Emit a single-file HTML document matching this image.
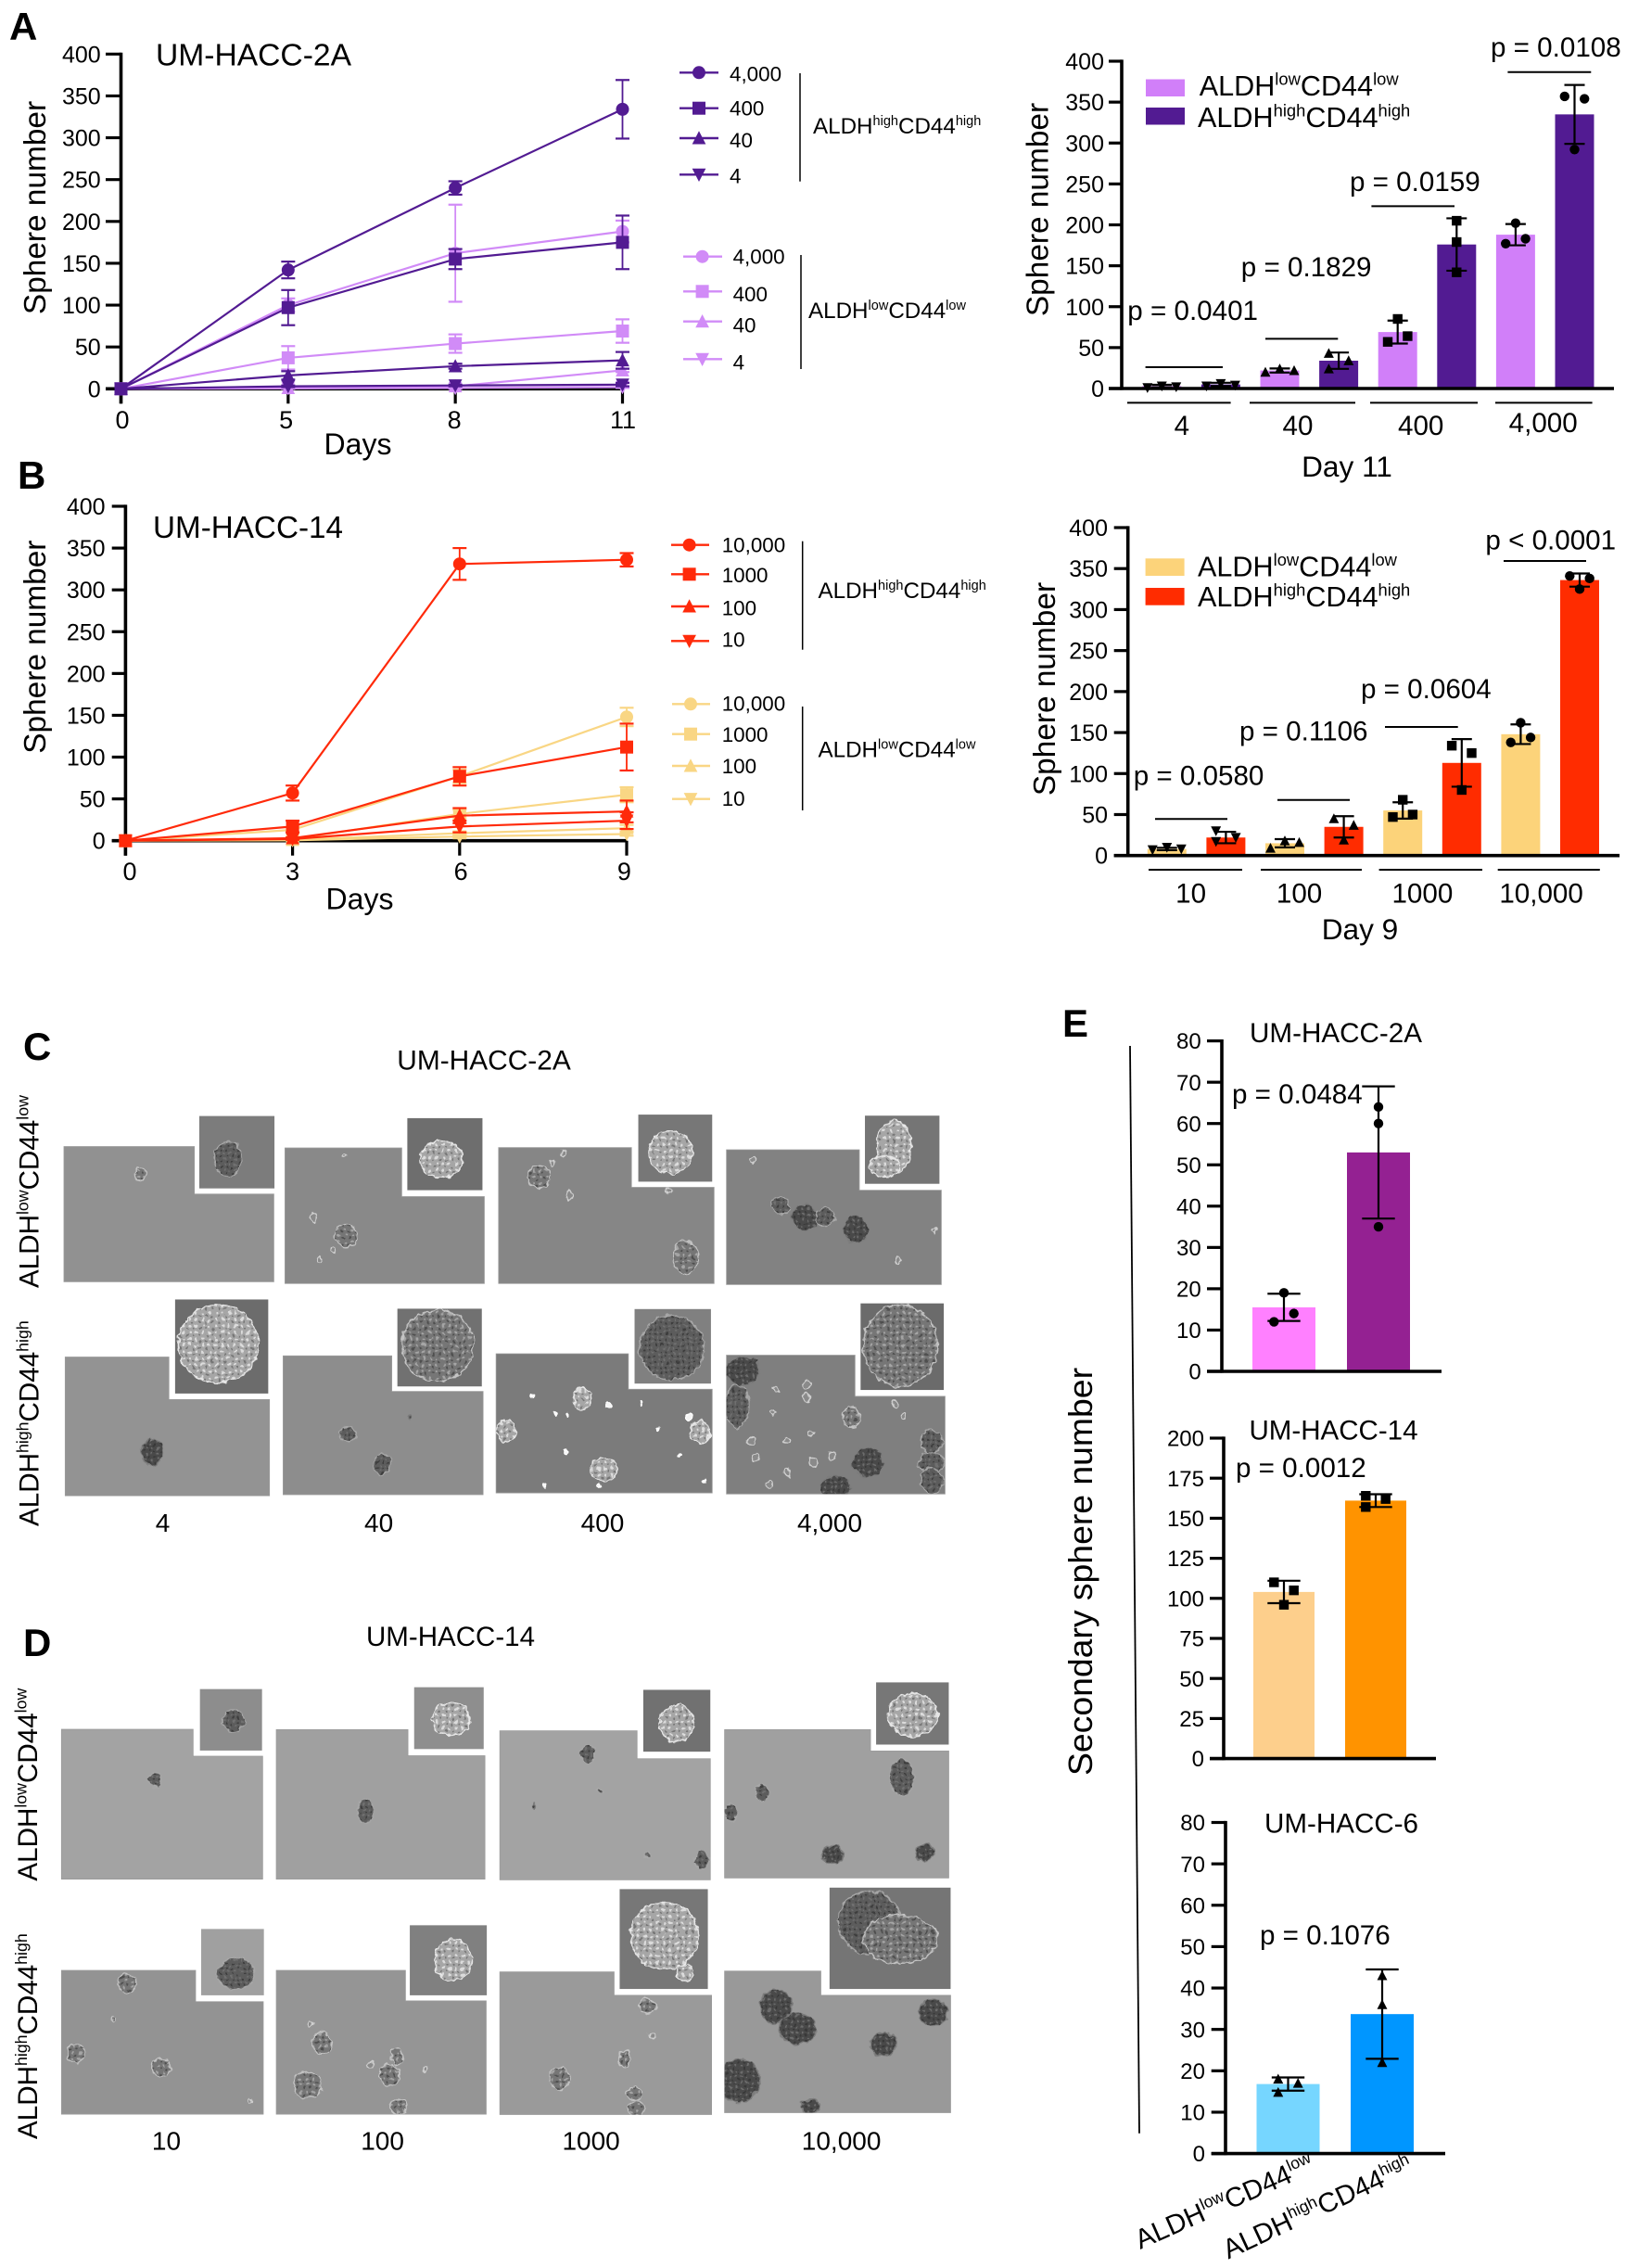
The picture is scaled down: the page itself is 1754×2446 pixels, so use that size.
<!DOCTYPE html>
<html lang="en">
<head>
<meta charset="utf-8">
<title>Sphere formation figure</title>
<style>
html,body{margin:0;padding:0;background:#fff;}
svg{display:block;font-family:"Liberation Sans",Arial,sans-serif;}
</style>
</head>
<body>
<svg id="fig" xmlns="http://www.w3.org/2000/svg" width="1754" height="2446" viewBox="0 0 1754 2446">
<rect width="1754" height="2446" fill="#fff"/>
<defs>
<pattern id="cellsL" width="7" height="7" patternUnits="userSpaceOnUse"><circle cx="2" cy="2" r="1.5" fill="#eee"/><circle cx="5.5" cy="5" r="1.2" fill="#666"/></pattern>
<pattern id="cellsM" width="7" height="7" patternUnits="userSpaceOnUse"><circle cx="2" cy="2" r="1.4" fill="#b5b5b5"/><circle cx="5.5" cy="5" r="1.3" fill="#444"/></pattern>
<pattern id="cellsD" width="6" height="6" patternUnits="userSpaceOnUse"><circle cx="2" cy="2" r="1.2" fill="#777"/><circle cx="5" cy="5" r="1.1" fill="#333"/></pattern>
<filter id="rough" x="-30%" y="-30%" width="160%" height="160%"><feTurbulence type="fractalNoise" baseFrequency="0.13" numOctaves="2" seed="3" result="n"/><feDisplacementMap in="SourceGraphic" in2="n" scale="7" xChannelSelector="R" yChannelSelector="G"/></filter>
</defs>
</svg>
<script>
/* ---------- chart data: panel A line chart ---------- */
const aDays = [0, 5, 8, 11];
const sphereTicks = [0, 50, 100, 150, 200, 250, 300, 350, 400];
const aHigh4000 = [0, 142, 240, 334];
const aHigh4000Err = [0, 10, 8, 35];
const aHigh400 = [0, 97, 155, 175];
const aHigh400Err = [0, 21, 12, 32];
const aHigh40 = [0, 16, 27, 34];
const aHigh40Err = [0, 5, 3, 10];
const aHigh4 = [0, 3, 4, 5];
const aHigh4Err = [0, 1, 1, 2];
const aLow4000 = [0, 100, 162, 188];
const aLow4000Err = [0, 8, 58, 13];
const aLow400 = [0, 37, 54, 69];
const aLow400Err = [0, 14, 11, 14];
const aLow40 = [0, 1, 3, 22];
const aLow40Err = [0, 1, 1, 2];
const aLow4 = [0, 0.5, 1, 2];
const aLow4Err = [0, 0.5, 1, 1];
/* ---------- panel B line chart ---------- */
const bDays = [0, 3, 6, 9];
const bHigh10000 = [0, 57, 331, 336];
const bHigh10000Err = [0, 9, 19, 8];
const bHigh1000 = [0, 17, 77, 112];
const bHigh1000Err = [0, 7, 11, 28];
const bHigh100 = [0, 3, 30, 35];
const bHigh100Err = [0, 1, 9, 13];
const bHigh10 = [0, 2, 17, 24];
const bHigh10Err = [0, 1, 7, 10];
const bLow10000 = [0, 13, 77, 148];
const bLow10000Err = [0, 3, 8, 11];
const bLow1000 = [0, 2, 32, 55];
const bLow1000Err = [0, 1, 5, 9];
const bLow100 = [0, 1, 9, 15];
const bLow100Err = [0, 0.5, 2, 4];
const bLow10 = [0, 0.5, 5, 8];
const bLow10Err = [0, 0.3, 2, 2];
/* ---------- panel A bars (day 11) ---------- */
const a2Cats = ['4', '40', '400', '4,000'];
const a2Low = [3, 22, 69, 188];
const a2High = [5, 34, 176, 335];
const a2LowErr = [1.5, 2.5, 14, 13];
const a2HighErr = [2, 10, 32, 36];
const a2LowPts = [[1, 3, 2], [20, 24, 22], [57, 85, 64], [177, 202, 183]];
const a2HighPts = [[3, 6, 4], [43, 34, 24], [205, 179, 142], [357, 292, 354]];
/* ---------- panel B bars (day 9) ---------- */
const b2Cats = ['10', '100', '1000', '10,000'];
const b2Low = [8, 15, 55, 148];
const b2High = [22, 35, 113, 336];
const b2LowErr = [1.5, 5, 10, 12];
const b2HighErr = [7, 13, 29, 8];
const b2LowPts = [[7, 10, 8], [9, 18, 16], [47, 68, 50], [138, 162, 144]];
const b2HighPts = [[30, 22, 17], [45, 19, 37], [134, 80, 125], [341, 325, 338]];
/* ---------- panel E bars ---------- */
const e1Ticks = [0, 10, 20, 30, 40, 50, 60, 70, 80];
const e1Vals = [15.5, 53];
const e1Errs = [3.3, 16];
const e1Pts = [[12, 19, 14], [64, 60, 35]];
const e2Ticks = [0, 25, 50, 75, 100, 125, 150, 175, 200];
const e2Vals = [104, 161];
const e2Errs = [7, 4];
const e2Pts = [[110, 96, 105], [164, 162, 157]];
const e3Vals = [16.8, 33.7];
const e3Errs = [1.6, 10.8];
const e3Pts = [[18, 17, 14.8], [43, 36, 22]];

/* ---------- helpers ---------- */
const NS = 'http://www.w3.org/2000/svg';
const fig = document.getElementById('fig');
function mk(tag, attrs, name, parent, interactive) {
  const el = document.createElementNS(NS, tag);
  for (const k in attrs) el.setAttribute(k, attrs[k]);
  
  
  (parent || fig).appendChild(el);
  return el;
}
function group(name, parent) { return mk('g', {}, name, parent || fig); }
function line(x1, y1, x2, y2, color, w, name, parent) {
  return mk('line', {x1: x1, y1: y1, x2: x2, y2: y2, stroke: color, 'stroke-width': w}, name, parent);
}
function txt(x, y, s, size, name, o, parent) {
  o = o || {};
  const a = {x: x, y: y, 'font-size': size, fill: '#000', 'text-anchor': o.anchor || 'start'};
  if (o.bold) a['font-weight'] = 'bold';
  if (o.rot !== undefined) a.transform = 'rotate(' + o.rot + ' ' + x + ' ' + y + ')';
  if (o.len) { a.textLength = o.len; a.lengthAdjust = 'spacingAndGlyphs'; }
  const el = mk('text', a, name, parent);
  el.textContent = s;
  return el;
}
function aldh(x, y, level, size, name, rot, parent) {
  const a = {x: x, y: y, 'font-size': size, fill: '#000'};
  if (rot !== undefined) a.transform = 'rotate(' + rot + ' ' + x + ' ' + y + ')';
  const t = mk('text', a, name, parent);
  const shift = size * 0.38;
  const parts = [['ALDH', 0, 1], [level, -shift, 0.6], ['CD44', shift, 1], [level, -shift, 0.6]];
  parts.forEach(function (p) {
    const sp = document.createElementNS(NS, 'tspan');
    sp.setAttribute('dy', p[1]);
    sp.setAttribute('font-size', size * p[2]);
    sp.textContent = p[0];
    t.appendChild(sp);
  });
  return t;
}
function marker(shape, x, y, r, color, name, parent) {
  if (shape === 'circle') return mk('circle', {cx: x, cy: y, r: r, fill: color}, name, parent);
  if (shape === 'square') return mk('rect', {x: x - r, y: y - r, width: 2 * r, height: 2 * r, fill: color}, name, parent);
  const h = r * 1.1, w = r * 1.05;
  const pts = shape === 'up'
    ? [[x, y - h], [x + w, y + h * 0.85], [x - w, y + h * 0.85]]
    : [[x, y + h], [x + w, y - h * 0.85], [x - w, y - h * 0.85]];
  return mk('polygon', {points: pts.map(function (p) { return p.join(','); }).join(' '), fill: color}, name, parent);
}
function linearY(max, y0, yTop) { return function (v) { return y0 - v / max * (y0 - yTop); }; }

function yAxis(o, g) {
  const y = linearY(o.max, o.y0, o.yTop);
  o.ticks.forEach(function (t) {
    line(o.tickLeft, y(t), o.axisX, y(t), '#000', 3.2, 'y-tick-' + t, g);
    txt(o.labelEnd, y(t) + o.labelSize * 0.36, String(t), o.labelSize, 'y-tick-label-' + t, {anchor: 'end'}, g);
  });
  line(o.axisX, o.yTop - 1.6, o.axisX, o.y0 + (o.below || 1.6), '#000', 3.6, 'y-axis', g);
  line(o.tickLeft, o.y0, o.axisEnd, o.y0, '#000', 3.6, 'x-axis', g);
}
function lineChart(o) {
  const g = group(o.name);
  const y = linearY(o.max, o.y0, o.yTop);
  const x = function (i) { return o.xLeft + i * (o.xRight - o.xLeft) / (o.days.length - 1); };
  yAxis({max: o.max, y0: o.y0, yTop: o.yTop, ticks: o.ticks, tickLeft: o.tickLeft, axisX: o.xLeft, axisEnd: o.xRight, labelEnd: o.labelEnd, labelSize: 25, below: 16}, g);
  o.days.forEach(function (d, i) {
    line(x(i), o.y0, x(i), o.y0 + 16, '#000', 3.2, 'x-tick-' + d, g);
    txt(x(i) + o.labelNudge(i), o.y0 + 42.5, String(d), 27, 'x-tick-label-' + d, {anchor: 'middle'}, g);
  });
  o.series.forEach(function (s) {
    const sg = group('series-' + s.key, g);
    const pts = s.vals.map(function (v, i) { return x(i) + ',' + y(v); }).join(' ');
    mk('polyline', {points: pts, fill: 'none', stroke: s.color, 'stroke-width': 2.2}, 'line-' + s.key, sg);
    s.vals.forEach(function (v, i) {
      const e = s.errs[i];
      if (e > 0) {
        line(x(i), y(v - e), x(i), y(v + e), s.color, 1.8, 'error-bar-' + s.key, sg);
        line(x(i) - 7.5, y(v + e), x(i) + 7.5, y(v + e), s.color, 2.2, 'error-cap-top-' + s.key, sg);
        line(x(i) - 7.5, y(v - e), x(i) + 7.5, y(v - e), s.color, 2.2, 'error-cap-bottom-' + s.key, sg);
      }
      marker(s.shape, x(i), y(v), 7, s.color, 'point-' + s.key + '-' + i, sg);
    });
  });
}
/* GraphPad-style swarm: returns a horizontal pixel offset for each replicate, derived from the values */
function swarmOffsets(vals, perUnit) {
  const order = vals.map(function (v, i) { return i; }).sort(function (a, b) { return vals[a] - vals[b]; });
  const clusters = [];
  order.forEach(function (i, k) {
    if (k && (vals[i] - vals[order[k - 1]]) * perUnit < 10.5) clusters[clusters.length - 1].push(i);
    else clusters.push([i]);
  });
  const out = vals.map(function () { return 0; });
  clusters.forEach(function (c) {
    if (c.length === 2) {
      const ids = c.slice().sort(function (a, b) { return a - b; });
      out[ids[0]] = -10.7;
      out[ids[1]] = 10.7;
    } else if (c.length === 3) {
      const span = (vals[c[2]] - vals[c[0]]) * perUnit;
      if (span >= 10) {
        out[c[2]] = -10.7;
        out[c[1]] = 10.7;
        out[c[0]] = -10.7;
      } else {
        const ids = c.slice().sort(function (a, b) { return a - b; });
        out[ids[0]] = -15.5;
        out[ids[2]] = 15.5;
      }
    }
  });
  return out;
}
function drawBar(o, g, cx, v, err, pts, color, shape, label) {
  const y = linearY(o.max, o.y0, o.yTop);
  const bg = group('bar-group-' + label, g);
  mk('rect', {x: cx - o.barW / 2, y: y(v), width: o.barW, height: o.y0 - y(v), fill: color}, 'bar-' + label, bg);
  line(cx, y(v - err), cx, y(v + err), '#000', 2.2, 'error-bar-' + label, bg);
  line(cx - o.cap, y(v + err), cx + o.cap, y(v + err), '#000', 2.2, 'error-cap-top-' + label, bg);
  line(cx - o.cap, y(v - err), cx + o.cap, y(v - err), '#000', 2.2, 'error-cap-bottom-' + label, bg);
  const off = swarmOffsets(pts, (o.y0 - o.yTop) / o.max);
  pts.forEach(function (p, i) {
    marker(shape, cx + off[i], y(p), 5.2, '#000', 'data-point-' + label + '-' + i, bg);
  });
}
function groupedBars(o) {
  const g = group(o.name);
  o.cats.forEach(function (c, i) {
    const lowX = o.start + i * 2 * o.step;
    const highX = lowX + o.step;
    drawBar(o, g, lowX, o.low[i], o.lowErr[i], o.lowPts[i], o.lowColor, o.shapes[i], 'low-' + c);
    drawBar(o, g, highX, o.high[i], o.highErr[i], o.highPts[i], o.highColor, o.shapes[i], 'high-' + c);
  });
  yAxis({max: 400, y0: o.y0, yTop: o.yTop, ticks: sphereTicks, tickLeft: o.tickLeft, axisX: o.axisX, axisEnd: o.axisEnd, labelEnd: o.labelEnd, labelSize: 25}, g);
  return g;
}
function pairBars(o) {
  const g = group(o.name);
  o.centers.forEach(function (cx, i) {
    drawBar(o, g, cx, o.vals[i], o.errs[i], o.pts[i], o.colors[i], o.shape, (i ? 'high' : 'low'));
  });
  yAxis({max: o.max, y0: o.y0, yTop: o.yTop, ticks: o.ticks, tickLeft: o.tickLeft, axisX: o.axisX, axisEnd: o.axisEnd, labelEnd: o.labelEnd, labelSize: 24}, g);
}
function legendRow(shape, color, cx, x1, x2, y, textX, label, key, textDy) {
  const g = group('legend-entry-' + key);
  line(x1, y, x2, y, color, 2.4, 'legend-line', g);
  marker(shape, cx, y, 7, color, 'legend-marker', g);
  txt(textX, y + 8 + (textDy || 0), label, 22.4, 'legend-label', {}, g);
}
function pNote(x, y, s, lx1, lx2, ly, key) {
  txt(x, y, s, 29.6, 'p-value-' + key);
  if (lx1) line(lx1, ly, lx2, ly, '#000', 2, 'significance-line-' + key);
}

/* ---------- Panel letters ---------- */
txt(10, 43, 'A', 42, 'panel-label-a', {bold: true});
txt(19, 527, 'B', 42, 'panel-label-b', {bold: true});
txt(25, 1143, 'C', 42, 'panel-label-c', {bold: true});
txt(25, 1786, 'D', 42, 'panel-label-d', {bold: true});
txt(1146, 1118, 'E', 42, 'panel-label-e', {bold: true});

/* ---------- Panel A left ---------- */
const PUR = '#521b92', LIL = '#d18bf7', RED = '#ff2a0a', YEL = '#f9d684';
lineChart({name: 'panel-a-line-chart', days: aDays, ticks: sphereTicks, max: 400, y0: 419.3, yTop: 58.3, xLeft: 130.5, xRight: 671.5, tickLeft: 114, labelEnd: 108.7,
  labelNudge: function (i) { return i === 0 ? 1.5 : i === 1 ? -2.2 : i === 2 ? -1 : 0.5; },
  series: [
    {key: 'low-4', vals: aLow4, errs: aLow4Err, color: LIL, shape: 'down'},
    {key: 'low-40', vals: aLow40, errs: aLow40Err, color: LIL, shape: 'up'},
    {key: 'low-400', vals: aLow400, errs: aLow400Err, color: LIL, shape: 'square'},
    {key: 'low-4000', vals: aLow4000, errs: aLow4000Err, color: LIL, shape: 'circle'},
    {key: 'high-4', vals: aHigh4, errs: aHigh4Err, color: PUR, shape: 'down'},
    {key: 'high-40', vals: aHigh40, errs: aHigh40Err, color: PUR, shape: 'up'},
    {key: 'high-400', vals: aHigh400, errs: aHigh400Err, color: PUR, shape: 'square'},
    {key: 'high-4000', vals: aHigh4000, errs: aHigh4000Err, color: PUR, shape: 'circle'}
  ]});
txt(49, 224, 'Sphere number', 33.4, 'panel-a-y-axis-title', {rot: -90, anchor: 'middle'});
txt(386, 490, 'Days', 32, 'panel-a-x-axis-title', {anchor: 'middle'});
txt(168, 70.7, 'UM-HACC-2A', 33.5, 'panel-a-title', {len: 211});
legendRow('circle', PUR, 754, 733, 775, 78.3, 787, '4,000', 'a-high-4000', 1);
legendRow('square', PUR, 754, 733, 775, 116.7, 787, '400', 'a-high-400', 0);
legendRow('up', PUR, 754, 733, 775, 149, 787, '40', 'a-high-40', 2);
legendRow('down', PUR, 754, 733, 775, 188.3, 787, '4', 'a-high-4', 1);
legendRow('circle', LIL, 757.6, 737, 779, 276.7, 790.6, '4,000', 'a-low-4000', 0);
legendRow('square', LIL, 757.6, 737, 779, 314.3, 790.6, '400', 'a-low-400', 2.5);
legendRow('up', LIL, 757.6, 737, 779, 346.7, 790.6, '40', 'a-low-40', 4);
legendRow('down', LIL, 757.6, 737, 779, 387.3, 790.6, '4', 'a-low-4', 3);
line(863, 79, 863, 195.7, '#000', 1.5, 'a-high-bracket');
line(864, 275, 864, 398, '#000', 1.5, 'a-low-bracket');
aldh(877, 144, 'high', 24.2, 'a-high-group-label');
aldh(872, 343, 'low', 24.2, 'a-low-group-label');

/* ---------- Panel B left ---------- */
lineChart({name: 'panel-b-line-chart', days: bDays, ticks: sphereTicks, max: 400, y0: 906.7, yTop: 546, xLeft: 135.4, xRight: 676, tickLeft: 120.7, labelEnd: 113.6,
  labelNudge: function (i) { return i === 0 ? 4.6 : i === 1 ? 0 : i === 2 ? 1.3 : -2.6; },
  series: [
    {key: 'low-10', vals: bLow10, errs: bLow10Err, color: YEL, shape: 'down'},
    {key: 'low-100', vals: bLow100, errs: bLow100Err, color: YEL, shape: 'up'},
    {key: 'low-1000', vals: bLow1000, errs: bLow1000Err, color: YEL, shape: 'square'},
    {key: 'low-10000', vals: bLow10000, errs: bLow10000Err, color: YEL, shape: 'circle'},
    {key: 'high-10', vals: bHigh10, errs: bHigh10Err, color: RED, shape: 'down'},
    {key: 'high-100', vals: bHigh100, errs: bHigh100Err, color: RED, shape: 'up'},
    {key: 'high-1000', vals: bHigh1000, errs: bHigh1000Err, color: RED, shape: 'square'},
    {key: 'high-10000', vals: bHigh10000, errs: bHigh10000Err, color: RED, shape: 'circle'}
  ]});
txt(49, 697.7, 'Sphere number', 33.4, 'panel-b-y-axis-title', {rot: -90, anchor: 'middle'});
txt(388, 980.7, 'Days', 32, 'panel-b-x-axis-title', {anchor: 'middle'});
txt(165, 580, 'UM-HACC-14', 33.5, 'panel-b-title', {len: 205});
legendRow('circle', RED, 743.6, 724, 765, 587.7, 778.7, '10,000', 'b-high-10000', 0);
legendRow('square', RED, 743.6, 724, 765, 619.3, 778.7, '1000', 'b-high-1000', 0.5);
legendRow('up', RED, 743.6, 724, 765, 654, 778.7, '100', 'b-high-100', 1.5);
legendRow('down', RED, 743.6, 724, 765, 691.3, 778.7, '10', 'b-high-10', -2);
legendRow('circle', YEL, 745, 725, 766, 759.3, 778.7, '10,000', 'b-low-10000', -1);
legendRow('square', YEL, 745, 725, 766, 791.7, 778.7, '1000', 'b-low-1000', 0.5);
legendRow('up', YEL, 745, 725, 766, 826, 778.7, '100', 'b-low-100', 0);
legendRow('down', YEL, 745, 725, 766, 861.7, 778.7, '10', 'b-low-10', -0.5);
line(865.7, 583.7, 865.7, 700.7, '#000', 1.5, 'b-high-bracket');
line(865.7, 762, 865.7, 874, '#000', 1.5, 'b-low-bracket');
aldh(882.5, 645, 'high', 24.2, 'b-high-group-label');
aldh(882.5, 816.7, 'low', 24.2, 'b-low-group-label');

/* ---------- Panel A right ---------- */
groupedBars({name: 'panel-a-bar-chart', cats: a2Cats, low: a2Low, high: a2High, lowErr: a2LowErr, highErr: a2HighErr, lowPts: a2LowPts, highPts: a2HighPts,
  lowColor: '#d17ff9', highColor: '#521b92', shapes: ['down', 'up', 'square', 'circle'],
  y0: 419, yTop: 66, max: 400, start: 1253.3, step: 63.6, barW: 42, cap: 11, tickLeft: 1196, axisX: 1210, axisEnd: 1741, labelEnd: 1191});
txt(1130.7, 226, 'Sphere number', 33.4, 'panel-a-bar-y-axis-title', {rot: -90, anchor: 'middle'});
mk('rect', {x: 1236, y: 85.5, width: 42, height: 18.5, fill: '#d17ff9'}, 'a-legend-swatch-low');
mk('rect', {x: 1236, y: 116, width: 42, height: 18.5, fill: '#521b92'}, 'a-legend-swatch-high');
aldh(1293.7, 103, 'low', 30.6, 'a-legend-label-low');
aldh(1292, 137, 'high', 30.6, 'a-legend-label-high');
[[1216, 1327.6], [1348, 1462], [1478, 1594], [1613, 1717.6]].forEach(function (p, i) { line(p[0], 434.4, p[1], 434.4, '#000', 2, 'a-group-underline-' + i); });
txt(1274.8, 469, '4', 29.6, 'a-category-label-4', {anchor: 'middle'});
txt(1400, 469, '40', 29.6, 'a-category-label-40', {anchor: 'middle'});
txt(1532.7, 469, '400', 29.6, 'a-category-label-400', {anchor: 'middle'});
txt(1664.7, 466, '4,000', 29.6, 'a-category-label-4000', {anchor: 'middle'});
txt(1453, 514, 'Day 11', 31.6, 'a-bar-x-axis-title', {anchor: 'middle'});
pNote(1608, 61, 'p = 0.0108', 1626.4, 1716.3, 77.8, 'a-4000');
pNote(1456, 206, 'p = 0.0159', 1479.4, 1569, 222.4, 'a-400');
pNote(1338.8, 298, 'p = 0.1829', 1365, 1443.3, 365.4, 'a-40');
pNote(1216.3, 345, 'p = 0.0401', 1235.6, 1319, 396, 'a-4');

/* ---------- Panel B right ---------- */
groupedBars({name: 'panel-b-bar-chart', cats: b2Cats, low: b2Low, high: b2High, lowErr: b2LowErr, highErr: b2HighErr, lowPts: b2LowPts, highPts: b2HighPts,
  lowColor: '#fcd37a', highColor: '#ff2c00', shapes: ['down', 'up', 'square', 'circle'],
  y0: 922.7, yTop: 569, max: 400, start: 1258.8, step: 63.6, barW: 42, cap: 11, tickLeft: 1201.7, axisX: 1216.7, axisEnd: 1747, labelEnd: 1195});
txt(1138, 743, 'Sphere number', 33.4, 'panel-b-bar-y-axis-title', {rot: -90, anchor: 'middle'});
mk('rect', {x: 1235.6, y: 602.3, width: 42, height: 18.7, fill: '#fcd37a'}, 'b-legend-swatch-low');
mk('rect', {x: 1235.6, y: 634, width: 42, height: 18.7, fill: '#ff2c00'}, 'b-legend-swatch-high');
aldh(1292, 621.7, 'low', 30.6, 'b-legend-label-low');
aldh(1292, 654, 'high', 30.6, 'b-legend-label-high');
[[1239, 1340], [1360, 1469], [1487.6, 1599], [1615.7, 1725.8]].forEach(function (p, i) { line(p[0], 938, p[1], 938, '#000', 2, 'b-group-underline-' + i); });
txt(1284.6, 973.3, '10', 29.6, 'b-category-label-10', {anchor: 'middle'});
txt(1401.6, 973.3, '100', 29.6, 'b-category-label-100', {anchor: 'middle'});
txt(1534.4, 973.3, '1000', 29.6, 'b-category-label-1000', {anchor: 'middle'});
txt(1662.6, 973.3, '10,000', 29.6, 'b-category-label-10000', {anchor: 'middle'});
txt(1467, 1013, 'Day 9', 31.6, 'b-bar-x-axis-title', {anchor: 'middle'});
pNote(1602.4, 592.7, 'p < 0.0001', 1622, 1711, 605, 'b-10000');
pNote(1468, 753, 'p = 0.0604', 1494, 1572.7, 784, 'b-1000');
pNote(1337, 798.7, 'p = 0.1106', 1378, 1456, 862.7, 'b-100');
pNote(1222.7, 846.7, 'p = 0.0580', 1246, 1324, 883.3, 'b-10');

/* ---------- Panel E ---------- */
line(1219, 1128, 1229, 2300.7, '#000', 1.8, 'e-bracket-line');
txt(1178, 1695, 'Secondary sphere number', 36, 'e-y-axis-title', {rot: -90, anchor: 'middle', len: 440});
pairBars({name: 'panel-e-2a-chart', centers: [1385, 1487], vals: e1Vals, errs: e1Errs, pts: e1Pts, colors: ['#ff80ff', '#942192'], shape: 'circle', ticks: e1Ticks, max: 80, y0: 1479, yTop: 1122.6, barW: 68, cap: 17.7, tickLeft: 1302, axisX: 1318, axisEnd: 1555, labelEnd: 1295.7});
txt(1441, 1124, 'UM-HACC-2A', 29.6, 'e-2a-title', {anchor: 'middle', len: 186});
txt(1329, 1190, 'p = 0.0484', 29.6, 'p-value-e-2a');
pairBars({name: 'panel-e-14-chart', centers: [1385, 1484], vals: e2Vals, errs: e2Errs, pts: e2Pts, colors: ['#fdcf8c', '#ff9300'], shape: 'square', ticks: e2Ticks, max: 200, y0: 1896.6, yTop: 1551, barW: 66, cap: 17.7, tickLeft: 1305, axisX: 1320, axisEnd: 1549, labelEnd: 1299});
txt(1438.5, 1552.4, 'UM-HACC-14', 29.6, 'e-14-title', {anchor: 'middle', len: 182});
txt(1333, 1593, 'p = 0.0012', 29.6, 'p-value-e-14');
pairBars({name: 'panel-e-6-chart', centers: [1389.5, 1491], vals: e3Vals, errs: e3Errs, pts: e3Pts, colors: ['#76d6ff', '#0096ff'], shape: 'up', ticks: e1Ticks, max: 80, y0: 2322.6, yTop: 1965.5, barW: 68, cap: 17.7, tickLeft: 1306.7, axisX: 1322, axisEnd: 1559, labelEnd: 1300});
txt(1447, 1976.7, 'UM-HACC-6', 29.6, 'e-6-title', {anchor: 'middle', len: 166});
txt(1359, 2097, 'p = 0.1076', 29.6, 'p-value-e-6');
aldh(1230, 2426, 'low', 29.6, 'e-x-label-low', -24);
aldh(1325, 2436.6, 'high', 29.6, 'e-x-label-high', -25);

/* ---------- Micrographs (panels C, D): coordinates measured in a scaled reference grid ---------- */
const TONE = {
  k: ['#4a4a4a', 'url(#cellsD)', '#7c7c7c'],
  d: ['#5c5c5c', 'url(#cellsD)', '#a8a8a8'],
  m: ['#767676', 'url(#cellsM)', '#c4c4c4'],
  l: ['#a6a6a6', 'url(#cellsL)', '#e6e6e6'],
  w: ['#f4f4f4', null, '#fff'],
  r: ['#8a8a8a', null, '#cfcfcf']
};
function micro(id, sx, sy, p) {
  const g = group('micrograph-' + id);
  const X = function (v) { return v * sx; };
  const Y = function (v) { return p.oy + v * sy; };
  const main = [[p.r[0], p.r[2]], [p.n[0], p.r[2]], [p.n[0], p.n[1]], [p.r[1], p.n[1]], [p.r[1], p.r[3]], [p.r[0], p.r[3]]]
    .map(function (q) { return X(q[0]) + ',' + Y(q[1]); }).join(' ');
  const clipMain = mk('clipPath', {id: 'clip-' + id}, 'clip-main-' + id, g);
  mk('polygon', {points: main}, 'clip-main-shape', clipMain);
  const clipIn = mk('clipPath', {id: 'clipi-' + id}, 'clip-inset-' + id, g);
  mk('rect', {x: X(p.i[0]), y: Y(p.i[2]), width: X(p.i[1] - p.i[0]), height: (p.i[3] - p.i[2]) * sy}, 'clip-inset-shape', clipIn);
  mk('polygon', {points: main, fill: p.bg, stroke: '#9a9a9a', 'stroke-width': 0.8}, 'field-' + id, g);
  mk('rect', {x: X(p.i[0]), y: Y(p.i[2]), width: X(p.i[1] - p.i[0]), height: (p.i[3] - p.i[2]) * sy, fill: p.ibg}, 'inset-' + id, g);
  const drawSet = function (list, clip, kind) {
    const outer = group(kind + '-sphere-clip-' + id, g);
    outer.setAttribute('clip-path', 'url(#' + clip + ')');
    const c = group(kind + '-spheres-' + id, outer);
    c.setAttribute('filter', 'url(#rough)');
    list.forEach(function (s) {
      const t = TONE[s[4]];
      mk('ellipse', {cx: X(s[0]), cy: Y(s[1]), rx: s[2] * sx, ry: s[3] * sy, fill: t[0], stroke: t[2], 'stroke-width': 1.4}, 'sphere', c);
      if (t[1]) mk('ellipse', {cx: X(s[0]), cy: Y(s[1]), rx: s[2] * sx, ry: s[3] * sy, fill: t[1], opacity: 0.75}, 'sphere-texture', c);
    });
  };
  drawSet(p.s, 'clip-' + id, 'field');
  drawSet(p.is, 'clipi-' + id, 'inset');
}
const CX = 1 / 1.493, CY = 1 / 2.613, DY = 1 / 2.489;
const cPanels = [
  {id: 'c-low-4', r: [103, 441, 409, 790], n: [313, 543], i: [321, 442, 323, 527], bg: '#919191', ibg: '#7c7c7c', s: [[226, 487, 9, 20, 'm']], is: [[367, 443, 22, 50, 'd']]},
  {id: 'c-low-40', r: [459, 780, 413, 795], n: [647, 550], i: [656, 777, 329, 532], bg: '#898989', ibg: '#6e6e6e', s: [[558, 660, 18, 32, 'm'], [505, 610, 6, 14, 'r'], [515, 728, 5, 10, 'r'], [535, 700, 5, 10, 'r'], [555, 435, 3, 6, 'r']], is: [[711, 445, 35, 52, 'l']]},
  {id: 'c-low-400', r: [803, 1150, 412, 795], n: [1017, 524], i: [1028, 1147, 319, 508], bg: '#868686', ibg: '#777777', s: [[868, 493, 18, 32, 'm'], [918, 545, 6, 12, 'r'], [908, 428, 5, 10, 'r'], [890, 455, 4, 8, 'r'], [1105, 720, 20, 47, 'm'], [1078, 532, 6, 8, 'r']], is: [[1080, 425, 35, 60, 'l']]},
  {id: 'c-low-4000', r: [1170, 1516, 418, 798], n: [1384, 532], i: [1393, 1513, 322, 514], bg: '#828282', ibg: '#757575', s: [[1257, 575, 14, 24, 'd'], [1297, 610, 22, 36, 'k'], [1329, 608, 15, 26, 'd'], [1378, 642, 20, 38, 'k'], [1445, 730, 4, 10, 'r'], [1213, 445, 4, 8, 'r'], [1505, 645, 3, 7, 'r']], is: [[1440, 410, 28, 75, 'l'], [1425, 465, 25, 30, 'l']]},
  {id: 'c-high-4', r: [105, 434, 1002, 1393], n: [272, 1122], i: [282, 432, 840, 1105], bg: '#939393', ibg: '#6c6c6c', s: [[245, 1270, 17, 36, 'k']], is: [[352, 965, 65, 110, 'l']]},
  {id: 'c-high-40', r: [456, 778, 999, 1390], n: [631, 1099], i: [640, 776, 866, 1085], bg: '#8d8d8d', ibg: '#717171', s: [[560, 1220, 14, 20, 'd'], [616, 1305, 14, 28, 'd'], [658, 1170, 3, 6, 'k']], is: [[705, 970, 58, 100, 'm']]},
  {id: 'c-high-400', r: [799, 1147, 993, 1385], n: [1012, 1093], i: [1022, 1145, 867, 1077], bg: '#7b7b7b', ibg: '#808080', s: [[938, 1120, 14, 30, 'l'], [815, 1210, 16, 30, 'l'], [1128, 1213, 17, 32, 'l'], [972, 1318, 22, 34, 'l'], [980, 1138, 4, 9, 'w'], [858, 1112, 2, 5, 'w'], [895, 1162, 2, 5, 'w'], [912, 1165, 2, 5, 'w'], [1033, 1130, 2, 5, 'w'], [1110, 1170, 5, 10, 'w'], [1060, 1205, 2, 5, 'w'], [912, 1268, 3, 6, 'w'], [1095, 1280, 2, 5, 'w'], [878, 1365, 3, 6, 'w'], [1135, 1352, 2, 5, 'w'], [965, 1365, 3, 6, 'w']], is: [[1082, 975, 52, 90, 'd']]},
  {id: 'c-high-4000', r: [1170, 1522, 997, 1388], n: [1377, 1113], i: [1386, 1520, 851, 1095], bg: '#7f7f7f', ibg: '#6b6b6b', s: [[1196, 1040, 28, 40, 'k'], [1187, 1140, 20, 60, 'd'], [1370, 1170, 14, 30, 'm'], [1398, 1300, 24, 42, 'k'], [1345, 1370, 24, 35, 'k'], [1500, 1240, 18, 30, 'd'], [1500, 1300, 20, 30, 'd'], [1500, 1350, 18, 35, 'd'], [1300, 1080, 7, 10, 'r'], [1250, 1095, 5, 8, 'r'], [1298, 1118, 7, 14, 'r'], [1245, 1158, 5, 8, 'r'], [1210, 1240, 6, 12, 'r'], [1268, 1238, 5, 10, 'r'], [1305, 1218, 5, 10, 'r'], [1340, 1280, 6, 12, 'r'], [1310, 1300, 6, 12, 'r'], [1218, 1285, 5, 10, 'r'], [1268, 1328, 5, 12, 'r'], [1240, 1362, 5, 10, 'r'], [1442, 1135, 5, 12, 'r'], [1455, 1168, 4, 9, 'r']], is: [[1450, 970, 60, 115, 'm']]}
];
cPanels.forEach(function (p) { p.oy = 1080; micro(p.id, CX, CY, p); });
const dPanels = [
  {id: 'd-low-10', r: [99, 423, 361, 763], n: [311, 433], i: [322, 422, 253, 418], bg: '#a3a3a3', ibg: '#8d8d8d', s: [[250, 497, 10, 21, 'd']], is: [[375, 338, 18, 30, 'd']]},
  {id: 'd-low-100', r: [445, 781, 362, 763], n: [657, 432], i: [667, 779, 248, 414], bg: '#a0a0a0', ibg: '#8e8e8e', s: [[589, 580, 14, 30, 'd']], is: [[727, 333, 30, 45, 'l']]},
  {id: 'd-low-1000', r: [805, 1144, 365, 765], n: [1026, 440], i: [1036, 1144, 255, 421], bg: '#a3a3a3', ibg: '#717171', s: [[947, 428, 12, 24, 'd'], [965, 527, 4, 8, 'd'], [860, 568, 3, 6, 'k'], [1043, 698, 4, 8, 'd'], [1130, 712, 12, 24, 'd']], is: [[1090, 345, 27, 50, 'l']]},
  {id: 'd-low-10000', r: [1167, 1528, 362, 760], n: [1402, 419], i: [1411, 1528, 235, 402], bg: '#a0a0a0', ibg: '#777777', s: [[1452, 490, 20, 48, 'd'], [1227, 530, 10, 22, 'd'], [1177, 585, 10, 22, 'd'], [1341, 698, 17, 26, 'k'], [1490, 692, 15, 24, 'k']], is: [[1470, 322, 40, 58, 'l']]},
  {id: 'd-high-10', r: [99, 424, 1008, 1394], n: [315, 1092], i: [324, 425, 897, 1075], bg: '#939393', ibg: '#a0a0a0', s: [[205, 1042, 15, 25, 'm'], [122, 1230, 14, 26, 'm'], [260, 1270, 15, 24, 'm'], [183, 1140, 5, 10, 'm'], [403, 1358, 3, 7, 'r']], is: [[380, 1017, 30, 42, 'd']]},
  {id: 'd-high-100', r: [445, 783, 1008, 1394], n: [653, 1090], i: [660, 784, 887, 1075], bg: '#959595', ibg: '#808080', s: [[518, 1203, 15, 30, 'm'], [495, 1315, 22, 36, 'm'], [627, 1288, 16, 30, 'm'], [640, 1238, 10, 20, 'm'], [642, 1372, 14, 20, 'm'], [500, 1150, 4, 8, 'r'], [597, 1262, 4, 8, 'r'], [685, 1272, 3, 7, 'r']], is: [[730, 980, 30, 55, 'l']]},
  {id: 'd-high-1000', r: [805, 1146, 1012, 1395], n: [989, 1075], i: [998, 1140, 790, 1058], bg: '#9a9a9a', ibg: '#777777', s: [[1043, 1103, 14, 20, 'm'], [1006, 1245, 10, 24, 'm'], [902, 1297, 16, 30, 'm'], [1022, 1340, 12, 16, 'm'], [1025, 1378, 14, 18, 'm'], [1050, 1183, 5, 8, 'r']], is: [[1070, 915, 55, 90, 'l'], [1103, 1015, 14, 22, 'l']]},
  {id: 'd-high-10000', r: [1167, 1531, 1010, 1390], n: [1322, 1075], i: [1336, 1531, 786, 1058], bg: '#999999', ibg: '#757575', s: [[1250, 1105, 26, 45, 'k'], [1285, 1165, 30, 42, 'k'], [1190, 1305, 34, 58, 'k'], [1423, 1207, 22, 32, 'k'], [1503, 1122, 24, 34, 'k'], [1305, 1375, 16, 18, 'k']], is: [[1400, 880, 50, 85, 'd'], [1450, 925, 60, 65, 'm']]}
];
dPanels.forEach(function (p) { p.oy = 1720; micro(p.id, CX, DY, p); });

txt(522, 1153.5, 'UM-HACC-2A', 29.6, 'panel-c-title', {anchor: 'middle', len: 187.5});
txt(486, 1775, 'UM-HACC-14', 29.6, 'panel-d-title', {anchor: 'middle', len: 182});
aldh(41.5, 1389, 'low', 29.6, 'panel-c-row-label-low', -90);
aldh(41.5, 1646, 'high', 29.6, 'panel-c-row-label-high', -90);
aldh(40, 2028.6, 'low', 29.6, 'panel-d-row-label-low', -90);
aldh(40, 2307, 'high', 29.6, 'panel-d-row-label-high', -90);
txt(175.5, 1652, '4', 28, 'panel-c-column-label-4', {anchor: 'middle'});
txt(408.6, 1652, '40', 28, 'panel-c-column-label-40', {anchor: 'middle'});
txt(650, 1652, '400', 28, 'panel-c-column-label-400', {anchor: 'middle'});
txt(895, 1652, '4,000', 28, 'panel-c-column-label-4000', {anchor: 'middle'});
txt(179.5, 2318.6, '10', 28, 'panel-d-column-label-10', {anchor: 'middle'});
txt(412.6, 2318.6, '100', 28, 'panel-d-column-label-100', {anchor: 'middle'});
txt(637.6, 2318.6, '1000', 28, 'panel-d-column-label-1000', {anchor: 'middle'});
txt(907.6, 2318.6, '10,000', 28, 'panel-d-column-label-10000', {anchor: 'middle'});
</script>
</body>
</html>
